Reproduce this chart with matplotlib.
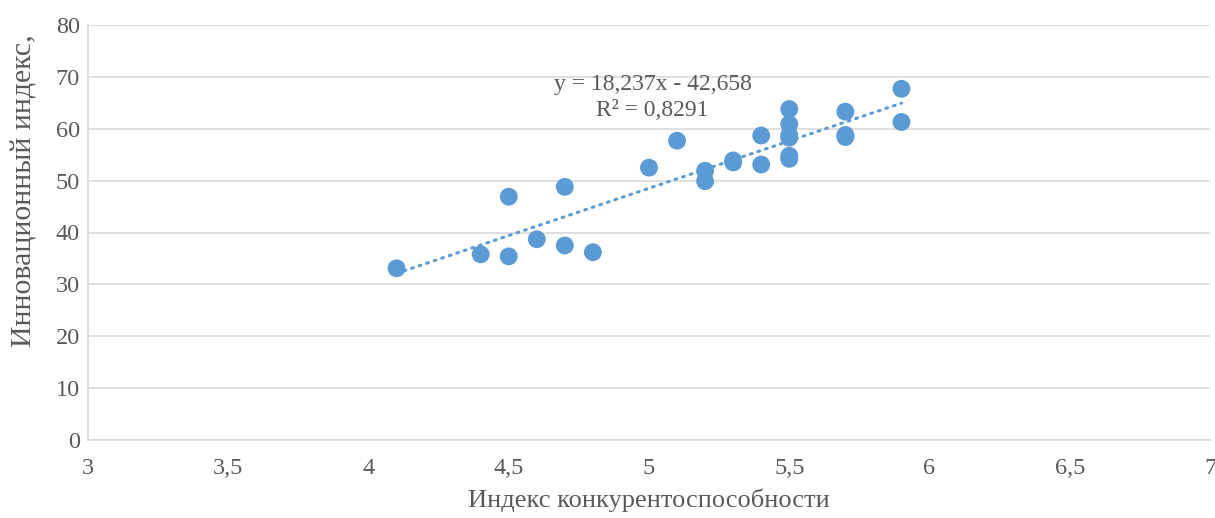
import numpy as np
import matplotlib
matplotlib.use('Agg')
import matplotlib.pyplot as plt

# данные
konk = [4.1, 4.4, 4.5, 4.5, 4.6, 4.7, 4.7, 4.8, 5.0, 5.1, 5.2, 5.2, 5.3, 5.3,
        5.4, 5.4, 5.5, 5.5, 5.5, 5.5, 5.5, 5.5, 5.7, 5.7, 5.7, 5.9, 5.9]
innov = [33.1, 35.8, 46.9, 35.4, 38.7, 48.8, 37.5, 36.2, 52.5, 57.7, 51.9, 49.9, 53.9, 53.5,
         58.7, 53.1, 63.8, 60.9, 58.8, 58.3, 54.8, 54.2, 63.3, 58.8, 58.4, 67.7, 61.3]
slope, intercept = 18.237, -42.658
eq_text = 'y = 18,237x - 42,658\nR² = 0,8291'
x_ticks = [3, 3.5, 4, 4.5, 5, 5.5, 6, 6.5, 7]
x_tick_labels = ['3', '3,5', '4', '4,5', '5', '5,5', '6', '6,5', '7']
y_ticks = [0, 10, 20, 30, 40, 50, 60, 70, 80]

plt.rcParams['font.family'] = ['Liberation Serif', 'DejaVu Serif']
blue = '#5B9BD5'
grey_txt = '#595959'

fig = plt.figure(figsize=(12.15, 5.18), dpi=100)
ax = fig.add_axes([88 / 1215, 1 - 440 / 518, 1122 / 1215, 415 / 518])

# линия тренда
xs = np.array([min(konk), max(konk)])
ax.plot(xs, slope * xs + intercept, color=blue, lw=2.2,
        linestyle=(0, (0.6, 2.0)), dash_capstyle='round', zorder=2)
ax.scatter(konk, innov, s=165, color=blue, edgecolors='none', zorder=3)

ax.text(5.013, 66.0, eq_text, ha='center', va='center', fontsize=17,
        color=grey_txt, linespacing=1.3)

ax.set_xlim(3, 7)
ax.set_ylim(0, 80)
ax.set_xticks(x_ticks)
ax.set_xticklabels(x_tick_labels)
ax.set_yticks(y_ticks)
ax.tick_params(length=0, labelsize=17.5, labelcolor=grey_txt)
ax.tick_params(axis='x', pad=13)
ax.tick_params(axis='y', pad=6)
ax.grid(axis='y', color='#D9D9D9', lw=1.2)
ax.set_axisbelow(True)
for s in ['top', 'right']:
    ax.spines[s].set_visible(False)
ax.spines['left'].set_color('#D9D9D9')
ax.spines['bottom'].set_color('#D9D9D9')
ax.spines['left'].set_linewidth(1.2)
ax.spines['bottom'].set_linewidth(1.2)

ax.set_xlabel('Индекс конкурентоспособности', fontsize=19, color=grey_txt)
ax.set_ylabel('Инновационный индекс,', fontsize=21.5, color=grey_txt)
ax.xaxis.set_label_coords(0.5, -0.118)
ax.yaxis.set_label_coords(-0.045, 0.6)

plt.savefig('out.png', dpi=100)
